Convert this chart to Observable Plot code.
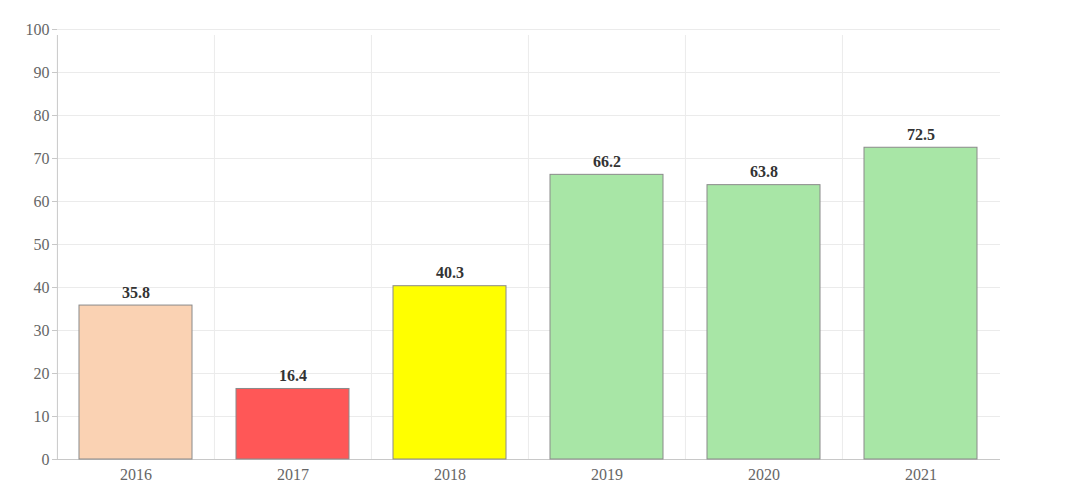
<!DOCTYPE html>
<html>
<head>
<meta charset="utf-8">
<script src="https://cdn.jsdelivr.net/npm/d3@7"></script>
<script src="https://cdn.jsdelivr.net/npm/@observablehq/plot@0.6"></script>
<style>
  html, body { margin: 0; padding: 0; background: #fff; }
  #chart { width: 1080px; height: 488px; }
</style>
</head>
<body>
<div id="chart"></div>
<script>
const years = ["2016", "2017", "2018", "2019", "2020", "2021"];
const values = [35.8, 16.4, 40.3, 66.2, 63.8, 72.5];
const colors = ["#FAD2B3", "#FF5757", "#FFFF00", "#A8E6A6", "#A8E6A6", "#A8E6A6"];
const yTicks = [0, 10, 20, 30, 40, 50, 60, 70, 80, 90, 100];

const data = years.map((y, i) => ({year: y, value: values[i], color: colors[i]}));

const W = 1080, H = 488, mL = 57, mR = 80, mT = 29, mB = 29;
const step = (W - mL - mR) / years.length;

const chart = Plot.plot({
  width: W,
  height: H,
  marginLeft: mL,
  marginRight: mR,
  marginTop: mT,
  marginBottom: mB,
  style: {fontFamily: "'Liberation Serif', 'DejaVu Serif', serif", fontSize: "16px", background: "#fff"},
  x: {type: "band", domain: years, paddingInner: 0.28, paddingOuter: 0.14, label: null},
  y: {domain: [0, 100], label: null},
  marks: [
    Plot.ruleY(yTicks.filter(d => d > 0), {stroke: "#ebebeb", strokeWidth: 1}),
    Plot.ruleX(years.slice(1), {x: d => d, dx: -step / 2, y1: 0, y2: 100, stroke: "#ebebeb", insetBottom: -6}),
    Plot.ruleX([years[0]], {x: d => d, dx: -step / 2, y1: 0, y2: 100, stroke: "#c8c8c8", insetBottom: -6}),
    Plot.ruleY([0], {stroke: "#c8c8c8"}),
    Plot.barY(data, {x: "year", y: "value", fill: "color", stroke: "#8a8a8a", strokeWidth: 1}),
    Plot.text(data, {x: "year", y: "value", text: d => d.value.toFixed(1), dy: -13, fill: "#333", fontWeight: "bold", fontSize: 16}),
    Plot.axisY({ticks: yTicks, tickSize: 5, tickPadding: 3, stroke: "#c8c8c8", color: "#666", fontSize: 16, label: null}),
    Plot.axisX({tickSize: 0, tickPadding: 9, color: "#666", fontSize: 16, label: null})
  ]
});
document.getElementById("chart").appendChild(chart);
</script>
</body>
</html>
